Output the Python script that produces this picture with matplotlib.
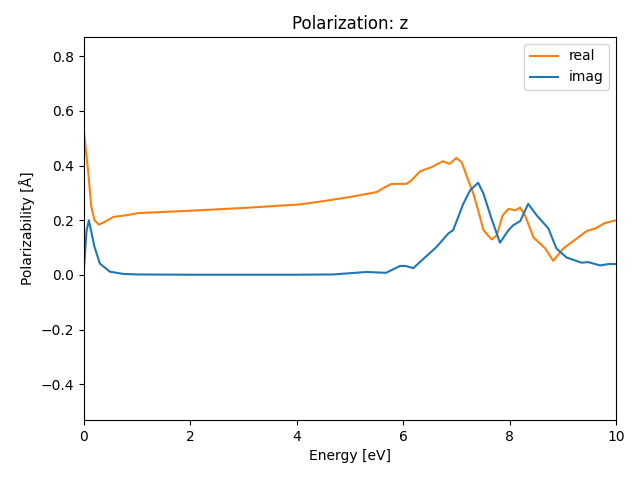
import numpy as np
import matplotlib
matplotlib.use('Agg')
import matplotlib.pyplot as plt

# 实部，读图得到的点
realE = [0.0, 0.08, 0.14, 0.2, 0.28, 0.4, 0.55, 0.85, 1.0, 2.0, 3.0, 4.06, 4.5, 5.0, 5.5, 5.65, 5.78, 6.06, 6.15, 6.32, 6.53, 6.75, 6.87, 7.0, 7.10, 7.19, 7.32, 7.41, 7.51, 7.66, 7.76, 7.87, 7.98, 8.10, 8.20, 8.29, 8.45, 8.67, 8.82, 9.01, 9.26, 9.45, 9.61, 9.79, 10.0]
realV = [0.527, 0.38, 0.25, 0.2, 0.184, 0.195, 0.212, 0.22, 0.226, 0.235, 0.245, 0.258, 0.27, 0.285, 0.303, 0.32, 0.333, 0.333, 0.345, 0.379, 0.394, 0.416, 0.406, 0.428, 0.412, 0.364, 0.297, 0.236, 0.164, 0.13, 0.145, 0.218, 0.242, 0.236, 0.246, 0.218, 0.137, 0.097, 0.052, 0.097, 0.133, 0.161, 0.17, 0.19, 0.2]

# 虚部
imagE = [0.0, 0.05, 0.094, 0.2, 0.3, 0.49, 0.74, 1.0, 2.0, 3.0, 4.0, 4.69, 5.31, 5.68, 5.94, 6.05, 6.19, 6.32, 6.63, 6.85, 6.94, 7.13, 7.26, 7.41, 7.51, 7.66, 7.82, 7.98, 8.07, 8.20, 8.35, 8.51, 8.73, 8.88, 9.07, 9.35, 9.48, 9.70, 9.86, 10.0]
imagV = [0.018, 0.16, 0.2, 0.103, 0.042, 0.012, 0.004, 0.002, 0.001, 0.001, 0.001, 0.002, 0.011, 0.008, 0.033, 0.033, 0.025, 0.048, 0.103, 0.152, 0.164, 0.26, 0.31, 0.337, 0.297, 0.206, 0.118, 0.164, 0.182, 0.197, 0.26, 0.218, 0.17, 0.097, 0.064, 0.045, 0.047, 0.035, 0.04, 0.04]

fig, ax = plt.subplots(figsize=(6.4, 4.8), dpi=100)
ax.plot(realE, realV, color='C1', label='real')
ax.plot(imagE, imagV, color='C0', label='imag')
ax.set_xlim(0, 10)
ax.set_ylim(-0.53, 0.87)
ax.set_title('Polarization: z')
ax.set_xlabel('Energy [eV]')
ax.set_ylabel('Polarizability [Å]')
ax.legend(loc='upper right')
fig.subplots_adjust(left=0.131, right=0.9625, top=0.923, bottom=0.125)
plt.savefig('out.png')
